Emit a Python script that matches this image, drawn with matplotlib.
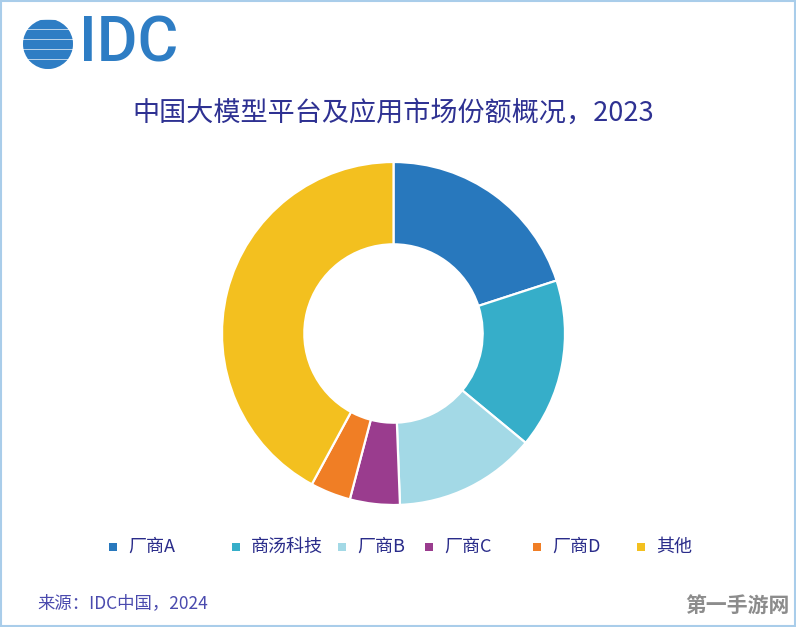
import matplotlib
matplotlib.use('Agg')
from matplotlib import pyplot as plt
from matplotlib.patches import Rectangle, Circle

plt.rcParams['font.family'] = ['Noto Sans CJK SC', 'DejaVu Sans']

# data (share of market, %)
vendors = ['厂商A', '商汤科技', '厂商B', '厂商C', '厂商D', '其他']
shares = [20.0, 16.0, 13.4, 4.7, 3.8, 42.1]
colors = ['#2878BD', '#36AEC9', '#A3D9E6', '#9A3C8E', '#F07E25', '#F3C01F']

TITLE = '中国大模型平台及应用市场份额概况，2023'
SOURCE = '来源：IDC中国，2024'

W, H = 796, 627
fig = plt.figure(figsize=(W / 100, H / 100), dpi=100)
fig.patch.set_facecolor('white')


def px(x, y):
    # pixel coords (from top-left) -> figure fraction
    return x / W, 1 - y / H


# thin light-blue frame around the whole picture
fig.patches.append(Rectangle((0.001, 0.001), 0.998, 0.998, transform=fig.transFigure,
                             fill=False, edgecolor='#A9CDEA', linewidth=1.5))

# IDC logo: striped globe + letters
logo_ax = fig.add_axes([18 / W, 1 - 74 / H, 60 / W, 60 / H])
logo_ax.set_xlim(-1.2, 1.2)
logo_ax.set_ylim(-1.2, 1.2)
logo_ax.set_aspect('equal')
logo_ax.axis('off')
globe = Circle((0, 0), 1.0, transform=logo_ax.transData)
band_h = 0.33
for i, yb in enumerate([-1.0, -0.6, -0.2, 0.2, 0.6]):
    shift = 0.1 if i % 2 else -0.1
    band = Rectangle((-1.1 + shift, yb + 0.035), 2.2, band_h, color='#2E7DC4')
    band.set_clip_path(globe)
    logo_ax.add_patch(band)
x, y = px(79, 44)
fig.text(x, y, 'IDC', fontsize=45, color='#2E7DC4', family=['Roboto', 'DejaVu Sans'],
         fontweight='medium', ha='left', va='center')

# title
x, y = px(393, 113)
fig.text(x, y, TITLE, fontsize=19.5, color='#2E3192', ha='center', va='center')

# donut
r_px = 171.5
cx, cy = 393.5, 333.5
ax = fig.add_axes([(cx - r_px) / W, 1 - (cy + r_px) / H, 2 * r_px / W, 2 * r_px / H])
ax.pie(shares, colors=colors, startangle=90, counterclock=False, radius=1.0,
       wedgeprops=dict(width=0.48, edgecolor='white', linewidth=1.6))
ax.set_xlim(-1, 1)
ax.set_ylim(-1, 1)
ax.set_aspect('equal')
ax.axis('off')

# legend row
square_x = [113, 236, 342, 429, 537, 641]
text_x = [128, 251, 357, 444, 552, 656]
leg_y = 547
sq = 8
for name, col, sx, tx in zip(vendors, colors, square_x, text_x):
    x0, y0 = px(sx - sq / 2, leg_y + sq / 2)
    fig.patches.append(Rectangle((x0, y0), sq / W, sq / H, transform=fig.transFigure,
                                 facecolor=col, edgecolor='none'))
    x, y = px(tx, leg_y)
    fig.text(x, y, name, fontsize=13, color='#2A2C8A', ha='left', va='center')

# source line
x, y = px(37, 603)
fig.text(x, y, SOURCE, fontsize=12.5, color='#4A4AAE', ha='left', va='center')

# watermark
x, y = px(790, 605)
fig.text(x, y, '第一手游网', fontsize=15, color='#8C8C8C', fontweight='bold',
         ha='right', va='center')

fig.savefig('out.png', dpi=100)
